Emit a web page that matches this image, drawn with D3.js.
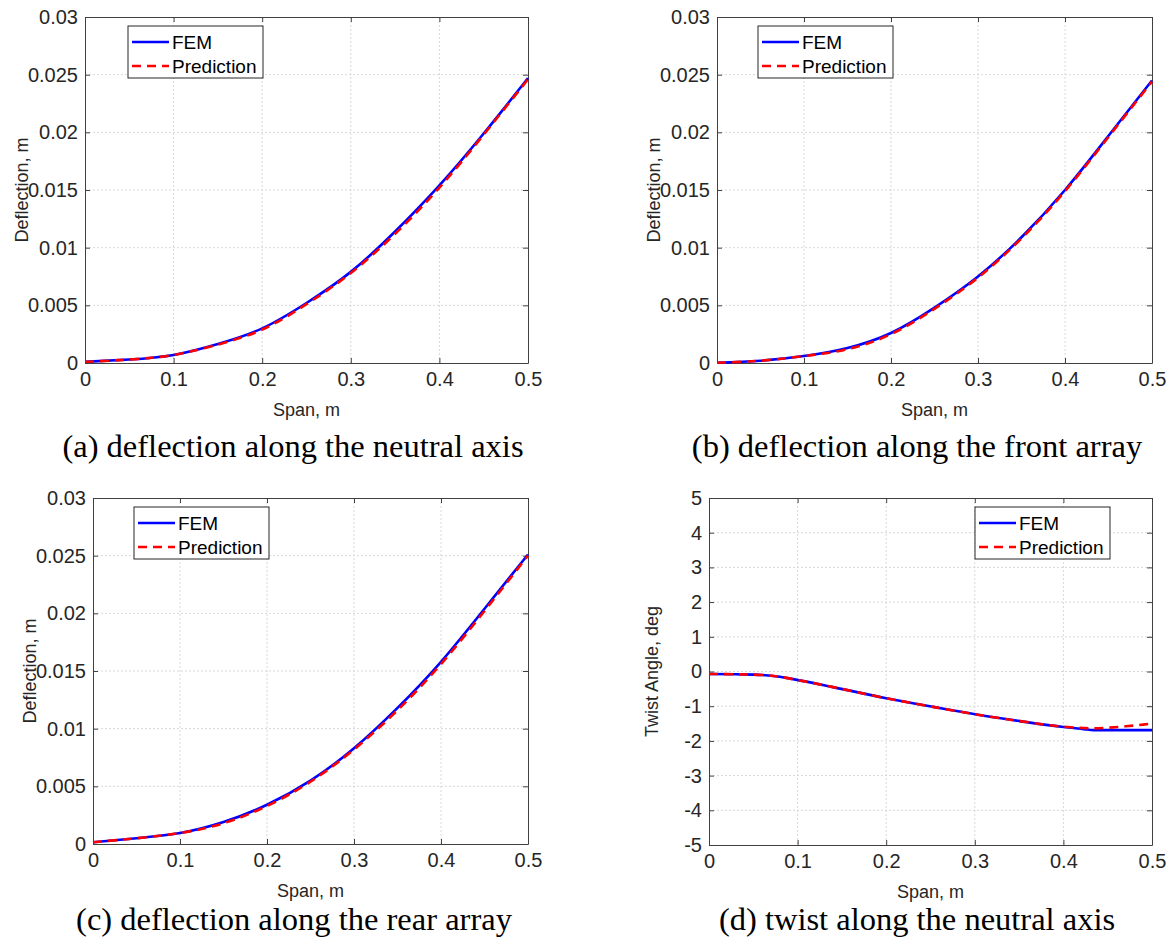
<!DOCTYPE html>
<html><head><meta charset="utf-8">
<script src="https://cdn.jsdelivr.net/npm/d3@7"></script>
<style>body{margin:0;background:#fff} svg{display:block}</style>
</head><body><svg id="chart" width="1170" height="943"></svg>
<script>
// ---------- data ----------
const seriesNames = ["FEM", "Prediction"];
const spanX = [0,0.05,0.1,0.15,0.2,0.25,0.3,0.35,0.4,0.45,0.5];
const femA  = [0.0001,0.0003,0.0007,0.00165,0.0030,0.0052,0.0079,0.0114,0.0154,0.0199,0.0247];
const predA = [0.0001,0.0003,0.0007,0.0016,0.0029,0.0051,0.0078,0.0112,0.0152,0.0198,0.0246];
const femB  = [0.00002,0.0002,0.0006,0.0013,0.0026,0.0048,0.0075,0.0109,0.0150,0.0197,0.0245];
const predB = [0.00002,0.0002,0.0006,0.0012,0.0025,0.0047,0.0074,0.0108,0.0149,0.0196,0.0244];
const femC  = [0.00015,0.0005,0.00095,0.0019,0.0034,0.0055,0.0083,0.0118,0.0158,0.0204,0.0251];
const predC = [0.00015,0.0005,0.00095,0.0018,0.0033,0.0054,0.0082,0.0116,0.0156,0.0202,0.0250];
const twistX = [0,0.03,0.06,0.08,0.095,0.14,0.2,0.253,0.302,0.351,0.4,0.423,0.434,0.45,0.47,0.49,0.5];
const femD   = [-0.07,-0.08,-0.10,-0.15,-0.22,-0.45,-0.77,-1.02,-1.24,-1.43,-1.60,-1.66,-1.69,-1.69,-1.69,-1.69,-1.69];
const predD  = [-0.07,-0.08,-0.10,-0.15,-0.22,-0.45,-0.77,-1.02,-1.24,-1.43,-1.59,-1.63,-1.64,-1.62,-1.58,-1.53,-1.50];

const xTicks = [0,0.1,0.2,0.3,0.4,0.5];
const xTickLabels = ["0","0.1","0.2","0.3","0.4","0.5"];
const deflTicks = [0,0.005,0.01,0.015,0.02,0.025,0.03];
const deflTickLabels = ["0","0.005","0.01","0.015","0.02","0.025","0.03"];
const twistTicks = [-5,-4,-3,-2,-1,0,1,2,3,4,5];
const twistTickLabels = ["-5","-4","-3","-2","-1","0","1","2","3","4","5"];
const xLabel = "Span, m";
const yLabels = ["Deflection, m","Deflection, m","Deflection, m","Twist Angle, deg"];
const captions = ["(a) deflection along the neutral axis","(b) deflection along the front array","(c) deflection along the rear array","(d) twist along the neutral axis"];

// ---------- layout ----------
const panels = [
  {x: spanX, fem: femA, pred: predA, yT: deflTicks, yL: deflTickLabels, yDom:[0,0.03], L:85,  T:17,  R:528,  B:363, leg:[128,26], ylx:22,  cap:[293,457], curve: d3.curveNatural},
  {x: spanX, fem: femB, pred: predB, yT: deflTicks, yL: deflTickLabels, yDom:[0,0.03], L:717, T:17,  R:1152, B:363, leg:[758,26], ylx:654, cap:[917,457], curve: d3.curveNatural},
  {x: spanX, fem: femC, pred: predC, yT: deflTicks, yL: deflTickLabels, yDom:[0,0.03], L:93,  T:498, R:528,  B:844, leg:[134,507], ylx:30, cap:[294,930], curve: d3.curveNatural},
  {x: twistX, fem: femD, pred: predD, yT: twistTicks, yL: twistTickLabels, yDom:[-5,5], L:709, T:498, R:1152, B:845, leg:[975,507], ylx:652, cap:[917,930], curve: d3.curveMonotoneX}
];

const svg = d3.select("#chart");
const axisColor = "#404040";
const sans = "'Liberation Sans', Arial, sans-serif";

panels.forEach((p, i) => {
  const xs = d3.scaleLinear().domain([0,0.5]).range([p.L, p.R]);
  const ys = d3.scaleLinear().domain(p.yDom).range([p.B, p.T]);
  const g = svg.append("g");

  // grid
  g.selectAll(".gx").data(xTicks.slice(1,-1)).join("line")
    .attr("x1", d => xs(d)).attr("x2", d => xs(d)).attr("y1", p.T).attr("y2", p.B)
    .attr("stroke", "#d8d8d8").attr("stroke-width", 1).attr("stroke-dasharray", "2,2");
  g.selectAll(".gy").data(p.yT.slice(1,-1)).join("line")
    .attr("x1", p.L).attr("x2", p.R).attr("y1", d => ys(d)).attr("y2", d => ys(d))
    .attr("stroke", "#d8d8d8").attr("stroke-width", 1).attr("stroke-dasharray", "2,2");

  const fmtX = d => xTickLabels[xTicks.indexOf(d)];
  const fmtY = d => p.yL[p.yT.indexOf(d)];

  const ax = [
    g.append("g").attr("transform", `translate(0,${p.B})`).call(d3.axisBottom(xs).tickValues(xTicks).tickFormat(fmtX).tickSizeInner(-5).tickSizeOuter(0).tickPadding(9)),
    g.append("g").attr("transform", `translate(0,${p.T})`).call(d3.axisTop(xs).tickValues(xTicks).tickFormat("").tickSizeInner(-5).tickSizeOuter(0)),
    g.append("g").attr("transform", `translate(${p.L},0)`).call(d3.axisLeft(ys).tickValues(p.yT).tickFormat(fmtY).tickSizeInner(-5).tickSizeOuter(0).tickPadding(7)),
    g.append("g").attr("transform", `translate(${p.R},0)`).call(d3.axisRight(ys).tickValues(p.yT).tickFormat("").tickSizeInner(-5).tickSizeOuter(0))
  ];
  ax.forEach(a => {
    a.attr("font-size", 20).attr("font-family", sans);
    a.select(".domain").attr("stroke", axisColor).attr("stroke-width", 1);
    a.selectAll(".tick line").attr("stroke", axisColor);
    a.selectAll(".tick text").attr("fill", "#262626").style("font-size", "20px").style("font-family", sans);
  });

  // lines
  const line = d3.line().x(d => xs(d[0])).y(d => ys(d[1])).curve(p.curve);
  g.append("path").datum(p.x.map((v, k) => [v, p.fem[k]]))
    .attr("d", line).attr("fill", "none").attr("stroke", "#0000ff").attr("stroke-width", 2.6);
  g.append("path").datum(p.x.map((v, k) => [v, p.pred[k]]))
    .attr("d", line).attr("fill", "none").attr("stroke", "#ff0000").attr("stroke-width", 2.6)
    .attr("stroke-dasharray", "9,6");

  // axis labels
  g.append("text").attr("x", (p.L + p.R) / 2).attr("y", p.B + 53).attr("text-anchor", "middle")
    .attr("fill", "#262626").style("font-size", "18px").style("font-family", sans).text(xLabel);
  g.append("text").attr("transform", `translate(${p.ylx},${(p.T + p.B) / 2}) rotate(-90)`)
    .attr("text-anchor", "middle").attr("dominant-baseline", "central")
    .attr("fill", "#262626").style("font-size", "18px").style("font-family", sans).text(yLabels[i]);

  // legend
  const lg = g.append("g").attr("transform", `translate(${p.leg[0]},${p.leg[1]})`);
  lg.append("rect").attr("width", 135).attr("height", 52).attr("fill", "#fff").attr("stroke", "#262626").attr("stroke-width", 1);
  const sty = [{c:"#0000ff", d:null}, {c:"#ff0000", d:"9,6"}];
  seriesNames.forEach((n, k) => {
    const yy = 16 + k * 24;
    lg.append("line").attr("x1", 4).attr("x2", 41).attr("y1", yy).attr("y2", yy)
      .attr("stroke", sty[k].c).attr("stroke-width", 2.6).attr("stroke-dasharray", sty[k].d);
    lg.append("text").attr("x", 44).attr("y", yy).attr("dominant-baseline", "central")
      .attr("fill", "#000").style("font-size", "19px").style("font-family", sans).text(n);
  });

  // caption
  svg.append("text").attr("x", p.cap[0]).attr("y", p.cap[1]).attr("text-anchor", "middle")
    .attr("fill", "#000").style("font-size", "32.5px").style("font-family", "'Liberation Serif', 'Times New Roman', serif").text(captions[i]);
});
</script>
</body></html>
